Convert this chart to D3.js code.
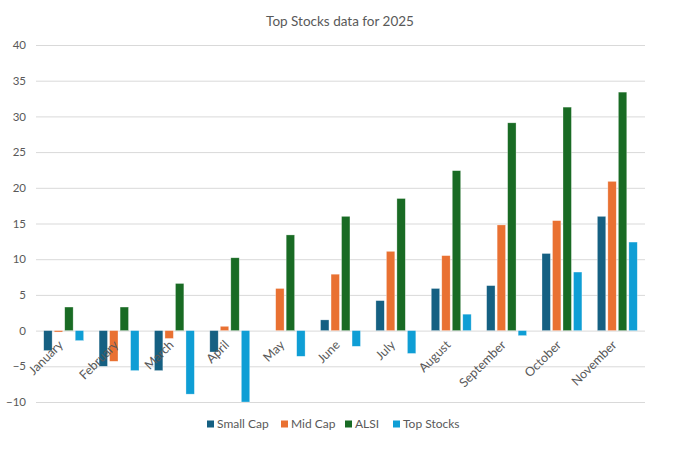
<!DOCTYPE html>
<html>
<head>
<meta charset="utf-8">
<script src="https://cdn.jsdelivr.net/npm/d3@7"></script>
<style>
    body { margin: 0; background: #fff; }
    text { font-family: Lato, "Open Sans", sans-serif; fill: #595959; }
</style>
</head>
<body>
<svg id="chart"></svg>
<script>
let months = ["January", "February", "March", "April", "May", "June", "July",
    "August", "September", "October", "November"];
let seriesNames = ["Small Cap", "Mid Cap", "ALSI", "Top Stocks"];
let smallCap = [-2.8, -5.0, -5.6, -3.0, 0, 1.5, 4.2, 5.9, 6.3, 10.8, 16.0];
let midCap = [-0.2, -4.3, -1.1, 0.6, 5.9, 7.9, 11.1, 10.5, 14.8, 15.4, 20.9];
let alsi = [3.3, 3.3, 6.6, 10.2, 13.4, 16.0, 18.5, 22.4, 29.1, 31.3, 33.4];
let topStocks = [-1.4, -5.6, -8.9, -10.0, -3.6, -2.2, -3.2, 2.3, -0.7, 8.2, 12.4];
let yTicks = [-10, -5, 0, 5, 10, 15, 20, 25, 30, 35, 40];
let colors = ["#156082", "#e97132", "#196b24", "#0f9ed5"];

let width = 680, height = 459;
let margin = {top: 45, right: 35, bottom: 57, left: 36};

let svg = d3.select("#chart")
    .attr("width", width)
    .attr("height", height);

let allSeries = [smallCap, midCap, alsi, topStocks];

let rows = [];
months.forEach(function (m, i) {
    seriesNames.forEach(function (s, j) {
        rows.push({month: m, series: s, value: allSeries[j][i], color: colors[j]});
    });
});

let x = d3.scaleBand()
    .domain(months)
    .range([margin.left, width - margin.right])
    .paddingInner(0.26)
    .paddingOuter(0.13);

let xSub = d3.scaleBand()
    .domain(seriesNames)
    .range([0, x.bandwidth()])
    .paddingInner(0.2)
    .paddingOuter(0.05);

let y = d3.scaleLinear()
    .domain([-10, 40])
    .range([height - margin.bottom, margin.top]);

// gridlines
svg.append("g")
    .selectAll("line")
    .data(yTicks)
    .enter()
    .append("line")
    .attr("x1", margin.left)
    .attr("x2", width - margin.right)
    .attr("y1", function (d) { return y(d) + 0.5; })
    .attr("y2", function (d) { return y(d) + 0.5; })
    .attr("stroke", "#d9d9d9")
    .attr("stroke-width", 1);

// y axis labels
let yAxis = svg.append("g")
    .attr("transform", "translate(" + (margin.left - 10) + ",0)")
    .call(d3.axisLeft(y).tickValues(yTicks).tickSize(0).tickPadding(0));
yAxis.select(".domain").remove();
yAxis.selectAll("text")
    .style("font-size", "11.5px")
    .attr("fill", "#595959");

// bars
svg.append("g")
    .selectAll("rect")
    .data(rows)
    .enter()
    .append("rect")
    .attr("x", function (d) { return x(d.month) + xSub(d.series); })
    .attr("y", function (d) { return y(Math.max(0, d.value)); })
    .attr("width", xSub.bandwidth())
    .attr("height", function (d) { return Math.abs(y(d.value) - y(0)); })
    .attr("fill", function (d) { return d.color; })
    .attr("stroke", "#ffffff")
    .attr("stroke-opacity", 0.5)
    .attr("stroke-width", 0.6);

// category labels at the zero line
svg.append("g")
    .selectAll("text")
    .data(months)
    .enter()
    .append("text")
    .attr("transform", function (d) {
        let cx = x(d) + x.bandwidth() / 2 - 3;
        return "translate(" + cx + "," + (y(0) + 12) + ") rotate(-45)";
    })
    .attr("text-anchor", "end")
    .attr("dy", "0.35em")
    .style("font-size", "12.5px")
    .attr("fill", "#555555")
    .text(function (d) { return d; });

// title
svg.append("text")
    .attr("x", width / 2)
    .attr("y", 26)
    .attr("text-anchor", "middle")
    .style("font-size", "13.5px")
    .text("Top Stocks data for 2025");

// legend
let legendX = [207, 281, 345, 393];
let legend = svg.append("g");
seriesNames.forEach(function (s, j) {
    let g = legend.append("g")
        .attr("transform", "translate(" + legendX[j] + ",424)");
    g.append("rect")
        .attr("x", 0)
        .attr("y", -3.5)
        .attr("width", 7)
        .attr("height", 7)
        .attr("fill", colors[j]);
    g.append("text")
        .attr("x", 10)
        .attr("dy", "0.35em")
        .style("font-size", "12px")
        .text(s);
});
</script>
</body>
</html>
